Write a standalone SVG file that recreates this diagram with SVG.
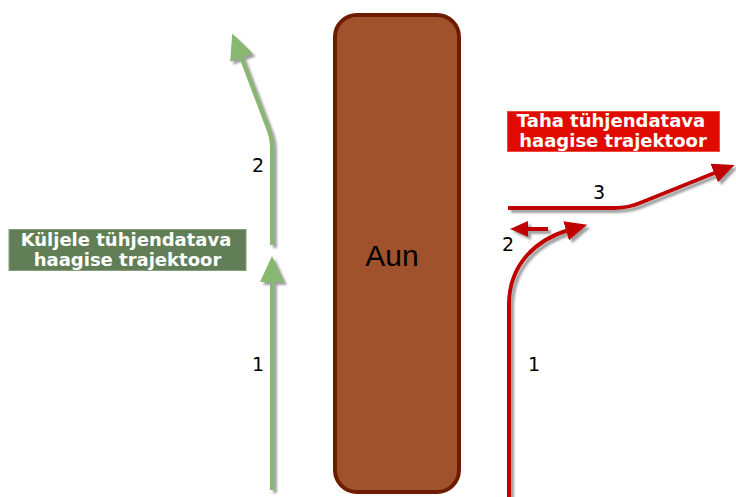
<svg xmlns="http://www.w3.org/2000/svg" width="736" height="497" viewBox="0 0 736 497">
<style>
.num{font-family:"DejaVu Sans",Verdana,sans-serif;font-size:19px;fill:#000;text-anchor:middle}
.lbl{font-family:"DejaVu Sans",Verdana,sans-serif;font-size:18px;font-weight:bold;fill:#fff;text-anchor:middle}
.g{fill:none;stroke:#88b870;stroke-width:4}
.r{fill:none;stroke:#c00000;stroke-width:4}
</style>
<defs>
<filter id="sh" x="-20%" y="-20%" width="140%" height="140%">
<feGaussianBlur in="SourceAlpha" stdDeviation="0.8" result="b"/>
<feOffset in="b" dx="2.5" dy="2.5" result="o"/>
<feFlood flood-color="#8f8f8f" flood-opacity="0.85"/>
<feComposite in2="o" operator="in" result="s"/>
<feMerge><feMergeNode in="s"/><feMergeNode in="SourceGraphic"/></feMerge>
</filter>
<marker id="ag" markerUnits="userSpaceOnUse" markerWidth="26" markerHeight="24" refX="4" refY="12" orient="auto" viewBox="0 0 26 24">
<path d="M0,0 L26,12 L0,24 z" fill="#88b870"/>
</marker>
<marker id="ar" markerUnits="userSpaceOnUse" markerWidth="22" markerHeight="20" refX="3" refY="10" orient="auto" viewBox="0 0 22 20">
<path d="M0,0 L22,10 L0,20 z" fill="#c00000"/>
</marker>
<marker id="ar2" markerUnits="userSpaceOnUse" markerWidth="18" markerHeight="16" refX="3" refY="8" orient="auto" viewBox="0 0 18 16">
<path d="M0,0 L18,8 L0,16 z" fill="#c00000"/>
</marker>
</defs>
<g id="aun">
<rect x="335" y="15" width="124" height="477" rx="22" ry="22" fill="#a0522d" stroke="#6e1c00" stroke-width="4"/>
<text x="392" y="266" font-family="Liberation Sans,Arial,sans-serif" font-size="30" fill="#000" text-anchor="middle">Aun</text>
</g>
<g id="connectors" filter="url(#sh)">
<path class="g" d="M272,490 V278" marker-end="url(#ag)"/>
<path class="g" d="M272,245 V148 Q272,138 268,128 L240,54" marker-end="url(#ag)"/>
<path class="r" d="M509,497 V305 C509,265 535,240 569,230" marker-end="url(#ar)"/>
<path class="r" d="M548,229 H525" marker-end="url(#ar2)"/>
<path class="r" d="M508,208 H615 Q628,208 640,203 L717,172" marker-end="url(#ar)"/>
</g>
<g id="side-label">
<rect x="9" y="229.5" width="237" height="41" fill="#617e57" stroke="#86a07c" stroke-width="1"/>
<text class="lbl" x="126" y="246">Küljele tühjendatava</text>
<text class="lbl" x="127.5" y="266">haagise trajektoor</text>
</g>
<g id="back-label">
<rect x="507.5" y="111.5" width="212" height="40" fill="#e00a00" stroke="#f04a40" stroke-width="1"/>
<text class="lbl" x="611" y="127">Taha tühjendatava</text>
<text class="lbl" x="613" y="147">haagise trajektoor</text>
</g>
<g id="numbers">
<text class="num" x="258" y="172">2</text>
<text class="num" x="258" y="371">1</text>
<text class="num" x="534" y="371">1</text>
<text class="num" x="508" y="251">2</text>
<text class="num" x="599" y="199">3</text>
</g>
</svg>
